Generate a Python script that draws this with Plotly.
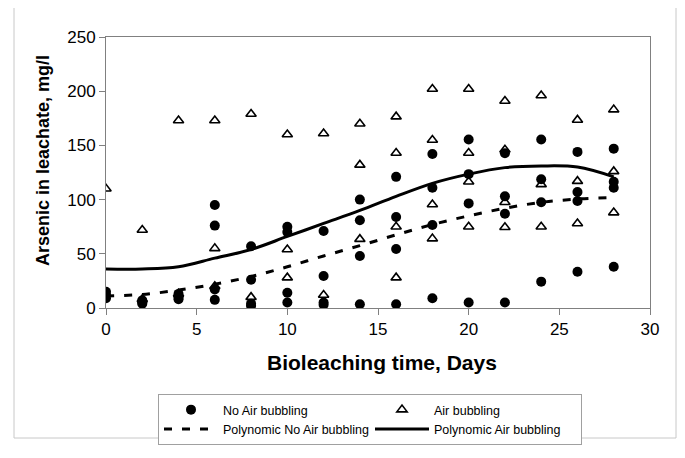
import plotly.graph_objects as go

# ---- data ----
no_air_days = [0, 0, 0,
               2, 2, 2,
               4, 4, 4,
               6, 6, 6, 6,
               8, 8, 8, 8,
               10, 10, 10, 10,
               12, 12, 12, 12,
               14, 14, 14, 14,
               16, 16, 16, 16,
               18, 18, 18, 18,
               20, 20, 20, 20,
               22, 22, 22, 22,
               24, 24, 24, 24,
               26, 26, 26, 26,
               28, 28, 28, 28]
no_air_vals = [15, 12, 9,
               7, 5, 4,
               13, 10, 8,
               95, 76, 17, 7.5,
               57, 26, 4, 2,
               75, 70, 14, 5,
               71, 29.5, 5, 3,
               100, 81, 48, 3.5,
               121, 84, 54.5, 3.5,
               142, 111, 76.5, 9,
               155.5, 123.5, 96.5, 5,
               142.7, 103, 87, 5,
               155.5, 118.7, 97.5, 24.3,
               144, 107, 98.7, 33.5,
               147, 116.5, 111, 38]

air_days = [0,
            2, 2,
            4, 4,
            6, 6, 6,
            8, 8,
            10, 10, 10,
            12, 12,
            14, 14, 14,
            16, 16, 16, 16,
            18, 18, 18, 18,
            20, 20, 20, 20,
            22, 22, 22, 22,
            24, 24, 24,
            26, 26, 26,
            28, 28, 28]
air_vals = [110,
            72, 8,
            173, 13,
            173, 55, 20,
            179, 10,
            160, 54, 28,
            161, 12,
            170, 132, 63.5,
            176.5, 143, 75, 28,
            202, 155, 95.5, 64,
            202, 143, 116.5, 75,
            191, 146, 97.5, 74.5,
            196, 114, 75,
            173.5, 117, 78,
            183, 126, 88]

poly_days = [0, 2, 4, 6, 8, 10, 12, 14, 16, 18, 20, 22, 24, 26, 28]
poly_no_air = [11, 12.5, 16.5, 22, 29, 38, 48, 57.5, 67.5, 77, 85, 92, 97.5, 100.5, 102]
poly_air = [36, 36, 38, 46, 54, 66, 78, 90, 103, 115, 123.5, 129.5, 131, 130, 121]

x_ticks = [0, 5, 10, 15, 20, 25, 30]
y_ticks = [0, 50, 100, 150, 200, 250]

FONT = "Arial, 'Liberation Sans', sans-serif"

# The page body has an 8px default margin, so the figure is drawn 8px
# right/down of the window origin; size and margins compensate for it.
PAGE_OFF = 8
WIN_W, WIN_H = 685, 458
W, H = WIN_W - PAGE_OFF, WIN_H - PAGE_OFF
PLOT_L, PLOT_R, PLOT_T, PLOT_B = 106, 650, 37, 308   # window pixels
PW, PH = PLOT_R - PLOT_L, PLOT_B - PLOT_T


def px_x(x):
    return (x - PLOT_L) / PW


def px_y(y):
    return (PLOT_B - y) / PH


fig = go.Figure()

fig.add_trace(go.Scatter(
    x=air_days, y=air_vals, mode="markers", name="Air bubbling",
    legendrank=2,
    marker=dict(symbol="triangle-up", size=9, color="white",
                line=dict(color="black", width=1.6)),
))
fig.add_trace(go.Scatter(
    x=no_air_days, y=no_air_vals, mode="markers", name="No Air bubbling",
    legendrank=1,
    marker=dict(symbol="circle", size=10, color="black",
                line=dict(color="black", width=0)),
))
fig.add_trace(go.Scatter(
    x=poly_days, y=poly_no_air, mode="lines", name="Polynomic No Air bubbling",
    legendrank=3,
    line=dict(color="black", width=3, dash="8px,10px", shape="spline", smoothing=1.0),
))
fig.add_trace(go.Scatter(
    x=poly_days, y=poly_air, mode="lines", name="Polynomic Air bubbling",
    legendrank=4,
    line=dict(color="black", width=3, shape="spline", smoothing=1.0),
))

fig.update_layout(
    width=W, height=H,
    margin=dict(l=PLOT_L - PAGE_OFF, r=WIN_W - PLOT_R, t=PLOT_T - PAGE_OFF,
                b=WIN_H - PLOT_B, pad=0, autoexpand=False),
    paper_bgcolor="white", plot_bgcolor="white",
    font=dict(family=FONT, color="black"),
    showlegend=True,
    legend=dict(
        orientation="h",
        x=px_x(158), xanchor="left",
        y=px_y(394), yanchor="top",
        bordercolor="#a0a0a0", borderwidth=1,
        font=dict(size=12.5, family=FONT),
        itemwidth=54,
        entrywidth=142,
        traceorder="normal",
        tracegroupgap=0,
    ),
    xaxis=dict(
        range=[0, 30], tickvals=x_ticks, ticktext=[str(v) for v in x_ticks],
        showgrid=False, zeroline=False,
        showline=True, linecolor="#808080", linewidth=1, mirror=True,
        ticks="outside", ticklen=6, tickcolor="#808080",
        tickfont=dict(size=17, family=FONT),
    ),
    yaxis=dict(
        range=[0, 250], tickvals=y_ticks, ticktext=[str(v) for v in y_ticks],
        showgrid=False, zeroline=False,
        showline=True, linecolor="#808080", linewidth=1, mirror=True,
        ticks="outside", ticklen=6, tickcolor="#808080",
        tickfont=dict(size=17, family=FONT),
    ),
    annotations=[
        dict(text="<b>Bioleaching time, Days</b>", xref="paper", yref="paper",
             x=px_x(382), y=px_y(362), xanchor="center", yanchor="middle",
             showarrow=False, font=dict(size=21, family=FONT, color="black")),
        dict(text="<b>Arsenic in leachate, mg/l</b>", xref="paper", yref="paper",
             x=px_x(43), y=px_y(161), xanchor="center", yanchor="middle",
             textangle=-90, showarrow=False,
             font=dict(size=18, family=FONT, color="black")),
    ],
    shapes=[dict(type="rect", xref="paper", yref="paper",
                 x0=px_x(14), x1=px_x(676), y0=px_y(438), y1=px_y(-4),
                 line=dict(color="#c8c8c8", width=1), fillcolor="rgba(0,0,0,0)",
                 layer="below")],
)

fig.write_html("out.html")
